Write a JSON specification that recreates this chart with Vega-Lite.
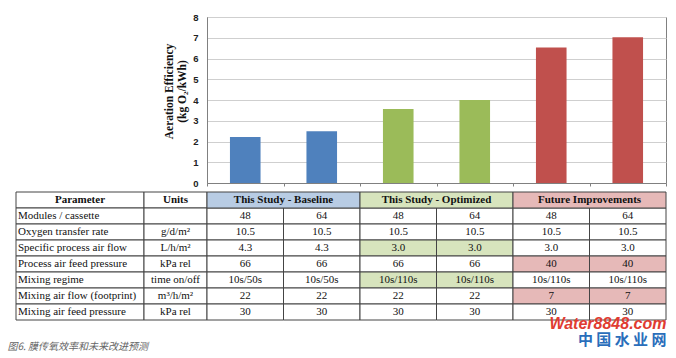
{
  "$schema": "https://vega.github.io/schema/vega-lite/v6.json",
  "padding": {"left": 7, "top": 11, "right": 5, "bottom": 5},
  "background": "white",
  "config": {"view": {"stroke": null}, "font": "Liberation Serif"},
  "datasets": {
    "bars": [
      {"col": "Baseline 48", "group": "This Study - Baseline", "eff": 2.22},
      {"col": "Baseline 64", "group": "This Study - Baseline", "eff": 2.5},
      {"col": "Optimized 48", "group": "This Study - Optimized", "eff": 3.57},
      {"col": "Optimized 64", "group": "This Study - Optimized", "eff": 4.0},
      {"col": "Future 48", "group": "Future Improvements", "eff": 6.53},
      {"col": "Future 64", "group": "Future Improvements", "eff": 7.02}
    ],
    "rows": [
      {"row": "Parameter", "param": "Parameter", "units": "Units"},
      {"row": "Modules / cassette", "param": "Modules / cassette", "units": ""},
      {"row": "Oxygen transfer rate", "param": "Oxygen transfer rate", "units": "g/d/m²"},
      {"row": "Specific process air flow", "param": "Specific process air flow", "units": "L/h/m²"},
      {"row": "Process air feed pressure", "param": "Process air feed pressure", "units": "kPa rel"},
      {"row": "Mixing regime", "param": "Mixing regime", "units": "time on/off"},
      {"row": "Mixing air flow  (footprint)", "param": "Mixing air flow  (footprint)", "units": "m³/h/m²"},
      {"row": "Mixing air feed pressure", "param": "Mixing air feed pressure", "units": "kPa rel"}
    ],
    "headers": [
      {"group": "This Study - Baseline", "row": "Parameter", "hl": "blue"},
      {"group": "This Study - Optimized", "row": "Parameter", "hl": "green"},
      {"group": "Future Improvements", "row": "Parameter", "hl": "red"}
    ],
    "cells": [
      {"group": "This Study - Baseline", "mod": "48", "row": "Modules / cassette", "text": "48", "hl": "none"},
      {"group": "This Study - Baseline", "mod": "64", "row": "Modules / cassette", "text": "64", "hl": "none"},
      {"group": "This Study - Baseline", "mod": "48", "row": "Oxygen transfer rate", "text": "10.5", "hl": "none"},
      {"group": "This Study - Baseline", "mod": "64", "row": "Oxygen transfer rate", "text": "10.5", "hl": "none"},
      {"group": "This Study - Baseline", "mod": "48", "row": "Specific process air flow", "text": "4.3", "hl": "none"},
      {"group": "This Study - Baseline", "mod": "64", "row": "Specific process air flow", "text": "4.3", "hl": "none"},
      {"group": "This Study - Baseline", "mod": "48", "row": "Process air feed pressure", "text": "66", "hl": "none"},
      {"group": "This Study - Baseline", "mod": "64", "row": "Process air feed pressure", "text": "66", "hl": "none"},
      {"group": "This Study - Baseline", "mod": "48", "row": "Mixing regime", "text": "10s/50s", "hl": "none"},
      {"group": "This Study - Baseline", "mod": "64", "row": "Mixing regime", "text": "10s/50s", "hl": "none"},
      {"group": "This Study - Baseline", "mod": "48", "row": "Mixing air flow  (footprint)", "text": "22", "hl": "none"},
      {"group": "This Study - Baseline", "mod": "64", "row": "Mixing air flow  (footprint)", "text": "22", "hl": "none"},
      {"group": "This Study - Baseline", "mod": "48", "row": "Mixing air feed pressure", "text": "30", "hl": "none"},
      {"group": "This Study - Baseline", "mod": "64", "row": "Mixing air feed pressure", "text": "30", "hl": "none"},
      {"group": "This Study - Optimized", "mod": "48", "row": "Modules / cassette", "text": "48", "hl": "none"},
      {"group": "This Study - Optimized", "mod": "64", "row": "Modules / cassette", "text": "64", "hl": "none"},
      {"group": "This Study - Optimized", "mod": "48", "row": "Oxygen transfer rate", "text": "10.5", "hl": "none"},
      {"group": "This Study - Optimized", "mod": "64", "row": "Oxygen transfer rate", "text": "10.5", "hl": "none"},
      {"group": "This Study - Optimized", "mod": "48", "row": "Specific process air flow", "text": "3.0", "hl": "green"},
      {"group": "This Study - Optimized", "mod": "64", "row": "Specific process air flow", "text": "3.0", "hl": "green"},
      {"group": "This Study - Optimized", "mod": "48", "row": "Process air feed pressure", "text": "66", "hl": "none"},
      {"group": "This Study - Optimized", "mod": "64", "row": "Process air feed pressure", "text": "66", "hl": "none"},
      {"group": "This Study - Optimized", "mod": "48", "row": "Mixing regime", "text": "10s/110s", "hl": "green"},
      {"group": "This Study - Optimized", "mod": "64", "row": "Mixing regime", "text": "10s/110s", "hl": "green"},
      {"group": "This Study - Optimized", "mod": "48", "row": "Mixing air flow  (footprint)", "text": "22", "hl": "none"},
      {"group": "This Study - Optimized", "mod": "64", "row": "Mixing air flow  (footprint)", "text": "22", "hl": "none"},
      {"group": "This Study - Optimized", "mod": "48", "row": "Mixing air feed pressure", "text": "30", "hl": "none"},
      {"group": "This Study - Optimized", "mod": "64", "row": "Mixing air feed pressure", "text": "30", "hl": "none"},
      {"group": "Future Improvements", "mod": "48", "row": "Modules / cassette", "text": "48", "hl": "none"},
      {"group": "Future Improvements", "mod": "64", "row": "Modules / cassette", "text": "64", "hl": "none"},
      {"group": "Future Improvements", "mod": "48", "row": "Oxygen transfer rate", "text": "10.5", "hl": "none"},
      {"group": "Future Improvements", "mod": "64", "row": "Oxygen transfer rate", "text": "10.5", "hl": "none"},
      {"group": "Future Improvements", "mod": "48", "row": "Specific process air flow", "text": "3.0", "hl": "none"},
      {"group": "Future Improvements", "mod": "64", "row": "Specific process air flow", "text": "3.0", "hl": "none"},
      {"group": "Future Improvements", "mod": "48", "row": "Process air feed pressure", "text": "40", "hl": "red"},
      {"group": "Future Improvements", "mod": "64", "row": "Process air feed pressure", "text": "40", "hl": "red"},
      {"group": "Future Improvements", "mod": "48", "row": "Mixing regime", "text": "10s/110s", "hl": "none"},
      {"group": "Future Improvements", "mod": "64", "row": "Mixing regime", "text": "10s/110s", "hl": "none"},
      {"group": "Future Improvements", "mod": "48", "row": "Mixing air flow  (footprint)", "text": "7", "hl": "red"},
      {"group": "Future Improvements", "mod": "64", "row": "Mixing air flow  (footprint)", "text": "7", "hl": "red"},
      {"group": "Future Improvements", "mod": "48", "row": "Mixing air feed pressure", "text": "30", "hl": "none"},
      {"group": "Future Improvements", "mod": "64", "row": "Mixing air feed pressure", "text": "30", "hl": "none"}
    ]
  },
  "title": {
    "text": "图6. 膜传氧效率和未来改进预测",
    "orient": "bottom",
    "anchor": "start",
    "font": "Noto Sans CJK SC",
    "fontSize": 10,
    "fontStyle": "italic",
    "fontWeight": "normal",
    "color": "#666666",
    "offset": -6,
    "dx": -8
  },
  "spacing": 3,
  "vconcat": [
    {
      "spacing": 0,
      "bounds": "flush",
      "hconcat": [
        {
          "width": 191,
          "height": 166,
          "data": {"values": [{}]},
          "mark": {"type": "text"},
          "encoding": {"text": {"value": ""}}
        },
        {
          "width": 459,
          "height": 166,
          "view": {"stroke": "#808080"},
          "data": {"name": "bars"},
          "mark": {"type": "bar", "width": {"band": 0.4}},
          "encoding": {
            "x": {
              "field": "col", "type": "nominal", "sort": null,
              "scale": {"paddingInner": 0, "paddingOuter": 0},
              "axis": {"title": null, "labels": false, "tickBand": "extent", "tickSize": 3, "domainColor": "#808080", "tickColor": "#808080", "grid": false}
            },
            "y": {
              "field": "eff", "type": "quantitative",
              "scale": {"domain": [0, 8]},
              "axis": {
                "values": [0, 1, 2, 3, 4, 5, 6, 7, 8],
                "grid": true, "gridColor": "#cfcfcf",
                "ticks": false, "domainColor": "#808080",
                "labelFont": "Liberation Sans", "labelFontWeight": "bold", "labelFontSize": 9.5, "labelColor": "#222222", "labelPadding": 9,
                "title": ["Aeration Efficiency", "(kg O₂/kWh)"],
                "titleFont": "Liberation Serif", "titleFontSize": 11.5, "titleFontWeight": "bold", "titleColor": "#111111", "titlePadding": 5,
                "titleY": 74
              }
            },
            "color": {
              "field": "group", "type": "nominal",
              "scale": {"domain": ["This Study - Baseline", "This Study - Optimized", "Future Improvements"], "range": ["#4f81bd", "#9bbb59", "#c0504d"]},
              "legend": null
            }
          }
        }
      ]
    },
    {
      "spacing": 0,
      "bounds": "flush",
      "hconcat": [
        {
          "width": 128,
          "height": 128,
          "data": {"name": "rows"},
          "layer": [
            {
              "mark": {"type": "rect", "fill": "white", "stroke": "#444444", "strokeWidth": 1},
              "encoding": {
                "x": {"datum": "c", "type": "nominal", "scale": {"paddingInner": 0, "paddingOuter": 0}, "axis": null},
                "y": {"field": "row", "type": "nominal", "sort": null, "scale": {"paddingInner": 0, "paddingOuter": 0}, "axis": null}
              }
            },
            {
              "transform": [{"filter": "datum.row != 'Parameter'"}],
              "mark": {"type": "text", "align": "left", "dx": 2, "font": "Liberation Serif", "fontSize": 11, "color": "#111111"},
              "encoding": {
                "x": {"datum": "c", "type": "nominal", "bandPosition": 0, "axis": null},
                "y": {"field": "row", "type": "nominal", "sort": null, "axis": null},
                "text": {"field": "param"}
              }
            },
            {
              "transform": [{"filter": "datum.row == 'Parameter'"}],
              "mark": {"type": "text", "align": "center", "font": "Liberation Serif", "fontSize": 11, "fontWeight": "bold", "color": "#111111"},
              "encoding": {
                "x": {"datum": "c", "type": "nominal", "axis": null},
                "y": {"field": "row", "type": "nominal", "sort": null, "axis": null},
                "text": {"field": "param"}
              }
            }
          ]
        },
        {
          "width": 63,
          "height": 128,
          "data": {"name": "rows"},
          "layer": [
            {
              "mark": {"type": "rect", "fill": "white", "stroke": "#444444", "strokeWidth": 1},
              "encoding": {
                "x": {"datum": "c", "type": "nominal", "scale": {"paddingInner": 0, "paddingOuter": 0}, "axis": null},
                "y": {"field": "row", "type": "nominal", "sort": null, "scale": {"paddingInner": 0, "paddingOuter": 0}, "axis": null}
              }
            },
            {
              "transform": [{"filter": "datum.row != 'Parameter'"}],
              "mark": {"type": "text", "align": "center", "font": "Liberation Serif", "fontSize": 11, "color": "#111111"},
              "encoding": {
                "x": {"datum": "c", "type": "nominal", "axis": null},
                "y": {"field": "row", "type": "nominal", "sort": null, "axis": null},
                "text": {"field": "units"}
              }
            },
            {
              "transform": [{"filter": "datum.row == 'Parameter'"}],
              "mark": {"type": "text", "align": "center", "font": "Liberation Serif", "fontSize": 11, "fontWeight": "bold", "color": "#111111"},
              "encoding": {
                "x": {"datum": "c", "type": "nominal", "axis": null},
                "y": {"field": "row", "type": "nominal", "sort": null, "axis": null},
                "text": {"field": "units"}
              }
            }
          ]
        },
        {
          "width": 153,
          "height": 128,
          "layer": [
            {
              "data": {"name": "cells"},
              "transform": [{"filter": "datum.group == 'This Study - Baseline'"}],
              "mark": {"type": "rect", "stroke": "#444444", "strokeWidth": 1},
              "encoding": {
                "x": {"field": "mod", "type": "nominal", "sort": null, "scale": {"domain": ["48", "64"], "paddingInner": 0, "paddingOuter": 0}, "axis": null},
                "y": {"field": "row", "type": "nominal", "scale": {"domain": ["Parameter", "Modules / cassette", "Oxygen transfer rate", "Specific process air flow", "Process air feed pressure", "Mixing regime", "Mixing air flow  (footprint)", "Mixing air feed pressure"], "paddingInner": 0, "paddingOuter": 0}, "axis": null},
                "fill": {"field": "hl", "type": "nominal", "scale": {"domain": ["none", "blue", "green", "red"], "range": ["#ffffff", "#b8cce4", "#d7e4bd", "#e6b9b8"]}, "legend": null}
              }
            },
            {
              "data": {"name": "cells"},
              "transform": [{"filter": "datum.group == 'This Study - Baseline'"}],
              "mark": {"type": "text", "font": "Liberation Serif", "fontSize": 11, "color": "#111111"},
              "encoding": {
                "x": {"field": "mod", "type": "nominal", "sort": null, "axis": null},
                "y": {"field": "row", "type": "nominal", "axis": null},
                "text": {"field": "text"}
              }
            },
            {
              "data": {"name": "headers"},
              "transform": [{"filter": "datum.group == 'This Study - Baseline'"}],
              "mark": {"type": "rect", "stroke": "#444444", "strokeWidth": 1},
              "encoding": {
                "x": {"value": 0}, "x2": {"value": "width"},
                "y": {"field": "row", "type": "nominal", "axis": null},
                "fill": {"field": "hl", "type": "nominal", "legend": null}
              }
            },
            {
              "data": {"name": "headers"},
              "transform": [{"filter": "datum.group == 'This Study - Baseline'"}],
              "mark": {"type": "text", "font": "Liberation Serif", "fontSize": 11, "fontWeight": "bold", "color": "#111111"},
              "encoding": {
                "x": {"datum": "64", "type": "nominal", "bandPosition": 0, "axis": null},
                "y": {"field": "row", "type": "nominal", "axis": null},
                "text": {"field": "group"}
              }
            }
          ]
        },
        {
          "width": 153,
          "height": 128,
          "layer": [
            {
              "data": {"name": "cells"},
              "transform": [{"filter": "datum.group == 'This Study - Optimized'"}],
              "mark": {"type": "rect", "stroke": "#444444", "strokeWidth": 1},
              "encoding": {
                "x": {"field": "mod", "type": "nominal", "sort": null, "scale": {"domain": ["48", "64"], "paddingInner": 0, "paddingOuter": 0}, "axis": null},
                "y": {"field": "row", "type": "nominal", "scale": {"domain": ["Parameter", "Modules / cassette", "Oxygen transfer rate", "Specific process air flow", "Process air feed pressure", "Mixing regime", "Mixing air flow  (footprint)", "Mixing air feed pressure"], "paddingInner": 0, "paddingOuter": 0}, "axis": null},
                "fill": {"field": "hl", "type": "nominal", "scale": {"domain": ["none", "blue", "green", "red"], "range": ["#ffffff", "#b8cce4", "#d7e4bd", "#e6b9b8"]}, "legend": null}
              }
            },
            {
              "data": {"name": "cells"},
              "transform": [{"filter": "datum.group == 'This Study - Optimized'"}],
              "mark": {"type": "text", "font": "Liberation Serif", "fontSize": 11, "color": "#111111"},
              "encoding": {
                "x": {"field": "mod", "type": "nominal", "sort": null, "axis": null},
                "y": {"field": "row", "type": "nominal", "axis": null},
                "text": {"field": "text"}
              }
            },
            {
              "data": {"name": "headers"},
              "transform": [{"filter": "datum.group == 'This Study - Optimized'"}],
              "mark": {"type": "rect", "stroke": "#444444", "strokeWidth": 1},
              "encoding": {
                "x": {"value": 0}, "x2": {"value": "width"},
                "y": {"field": "row", "type": "nominal", "axis": null},
                "fill": {"field": "hl", "type": "nominal", "legend": null}
              }
            },
            {
              "data": {"name": "headers"},
              "transform": [{"filter": "datum.group == 'This Study - Optimized'"}],
              "mark": {"type": "text", "font": "Liberation Serif", "fontSize": 11, "fontWeight": "bold", "color": "#111111"},
              "encoding": {
                "x": {"datum": "64", "type": "nominal", "bandPosition": 0, "axis": null},
                "y": {"field": "row", "type": "nominal", "axis": null},
                "text": {"field": "group"}
              }
            }
          ]
        },
        {
          "width": 153,
          "height": 128,
          "title": {
            "text": "Water8848.com",
            "subtitle": "中  国  水  业  网",
            "orient": "bottom",
            "anchor": "end",
            "offset": -5,
            "font": "Liberation Sans",
            "fontSize": 16,
            "fontWeight": "bold",
            "fontStyle": "italic",
            "color": "#e03c31",
            "subtitleFont": "Noto Sans CJK SC",
            "subtitleFontSize": 15,
            "subtitleFontWeight": "bold",
            "subtitleColor": "#2a6ebb",
            "subtitlePadding": 1
          },
          "layer": [
            {
              "data": {"name": "cells"},
              "transform": [{"filter": "datum.group == 'Future Improvements'"}],
              "mark": {"type": "rect", "stroke": "#444444", "strokeWidth": 1},
              "encoding": {
                "x": {"field": "mod", "type": "nominal", "sort": null, "scale": {"domain": ["48", "64"], "paddingInner": 0, "paddingOuter": 0}, "axis": null},
                "y": {"field": "row", "type": "nominal", "scale": {"domain": ["Parameter", "Modules / cassette", "Oxygen transfer rate", "Specific process air flow", "Process air feed pressure", "Mixing regime", "Mixing air flow  (footprint)", "Mixing air feed pressure"], "paddingInner": 0, "paddingOuter": 0}, "axis": null},
                "fill": {"field": "hl", "type": "nominal", "scale": {"domain": ["none", "blue", "green", "red"], "range": ["#ffffff", "#b8cce4", "#d7e4bd", "#e6b9b8"]}, "legend": null}
              }
            },
            {
              "data": {"name": "cells"},
              "transform": [{"filter": "datum.group == 'Future Improvements'"}],
              "mark": {"type": "text", "font": "Liberation Serif", "fontSize": 11, "color": "#111111"},
              "encoding": {
                "x": {"field": "mod", "type": "nominal", "sort": null, "axis": null},
                "y": {"field": "row", "type": "nominal", "axis": null},
                "text": {"field": "text"}
              }
            },
            {
              "data": {"name": "headers"},
              "transform": [{"filter": "datum.group == 'Future Improvements'"}],
              "mark": {"type": "rect", "stroke": "#444444", "strokeWidth": 1},
              "encoding": {
                "x": {"value": 0}, "x2": {"value": "width"},
                "y": {"field": "row", "type": "nominal", "axis": null},
                "fill": {"field": "hl", "type": "nominal", "legend": null}
              }
            },
            {
              "data": {"name": "headers"},
              "transform": [{"filter": "datum.group == 'Future Improvements'"}],
              "mark": {"type": "text", "font": "Liberation Serif", "fontSize": 11, "fontWeight": "bold", "color": "#111111"},
              "encoding": {
                "x": {"datum": "64", "type": "nominal", "bandPosition": 0, "axis": null},
                "y": {"field": "row", "type": "nominal", "axis": null},
                "text": {"field": "group"}
              }
            }
          ]
        }
      ]
    }
  ]
}
